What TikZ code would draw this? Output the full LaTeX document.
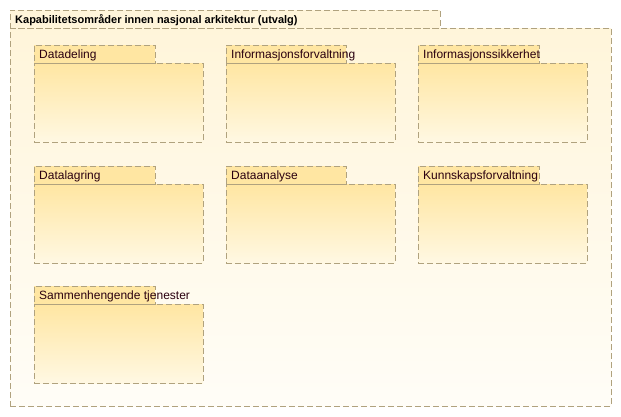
\documentclass[tikz,border=0pt]{standalone}
\usepackage{fontspec}
\setmainfont{Liberation Sans}
\usetikzlibrary{positioning, backgrounds}
\definecolor{pkgline}{HTML}{B0A27E}
\definecolor{pkgtop}{HTML}{FFE6A2}
\definecolor{pkgbot}{HTML}{FFF8E3}
\definecolor{outtop}{HTML}{FFF5DA}
\definecolor{outbot}{HTML}{FFFDF7}
\definecolor{pkgtext}{HTML}{2A0010}
\tikzset{%
	pkgbody/.style={draw=pkgline, dash pattern=on 6pt off 3pt, rectangle, anchor=north west,%
		minimum width=169pt, minimum height=79pt, inner sep=0pt, top color=pkgtop, bottom color=pkgbot},
	pkgtab/.style={draw=pkgline, dash pattern=on 6pt off 3pt, rectangle, anchor=south west,%
		minimum width=121pt, minimum height=18pt, inner sep=0pt, fill=pkgtop},
	pkglabel/.style={anchor=west, inner sep=0pt, yshift=-1.5pt, text=pkgtext, font=\fontsize{12}{14}\selectfont},
	outerbody/.style={draw=pkgline, dash pattern=on 6pt off 3pt, rectangle, anchor=north west,%
		minimum width=601pt, minimum height=378pt, inner sep=0pt, top color=outtop, bottom color=outbot},
	outertab/.style={draw=pkgline, dash pattern=on 6pt off 3pt, rectangle, anchor=south west,%
		minimum width=430pt, minimum height=18pt, inner sep=0pt, fill=outtop}
}
\begin{document}
\begin{tikzpicture}[x=1pt, y=-1pt]
	\useasboundingbox (0,0) rectangle (621,417);
	\fill[white] (0,0) rectangle (621,417);
	% outer package
	\node[outerbody] (main) at (10,28) {};
	\node[outertab] (maintab) at (main.north west) {};
	\node[pkglabel, text=black, font=\fontsize{11}{13}\selectfont\bfseries, right=5pt of maintab.west] {Kapabilitetsområder innen nasjonal arkitektur (utvalg)};

	% row 1
	\node[pkgbody] (deling) at (34,63) {};
	\node[pkgtab] (delingtab) at (deling.north west) {};
	\node[pkglabel, right=5pt of delingtab.west] {Datadeling};

	\node[pkgbody] (infforv) at (226,63) {};
	\node[pkgtab, minimum width=120pt] (infforvtab) at (infforv.north west) {};
	\node[pkglabel, right=5pt of infforvtab.west] {Informasjonsforvaltning};

	\node[pkgbody] (infsikk) at (418,63) {};
	\node[pkgtab] (infsikktab) at (infsikk.north west) {};
	\node[pkglabel, right=5pt of infsikktab.west] {Informasjonssikkerhet};

	% row 2
	\node[pkgbody] (lagring) at (34,184) {};
	\node[pkgtab] (lagringtab) at (lagring.north west) {};
	\node[pkglabel, right=5pt of lagringtab.west] {Datalagring};

	\node[pkgbody] (analyse) at (226,184) {};
	\node[pkgtab, minimum width=120pt] (analysetab) at (analyse.north west) {};
	\node[pkglabel, right=5pt of analysetab.west] {Dataanalyse};

	\node[pkgbody] (kunnskap) at (418,184) {};
	\node[pkgtab] (kunnskaptab) at (kunnskap.north west) {};
	\node[pkglabel, right=5pt of kunnskaptab.west] {Kunnskapsforvaltning};

	% row 3
	\node[pkgbody] (tjenester) at (34,304) {};
	\node[pkgtab] (tjenestertab) at (tjenester.north west) {};
	\node[pkglabel, right=5pt of tjenestertab.west] {Sammenhengende tjenester};
\end{tikzpicture}
\end{document}
